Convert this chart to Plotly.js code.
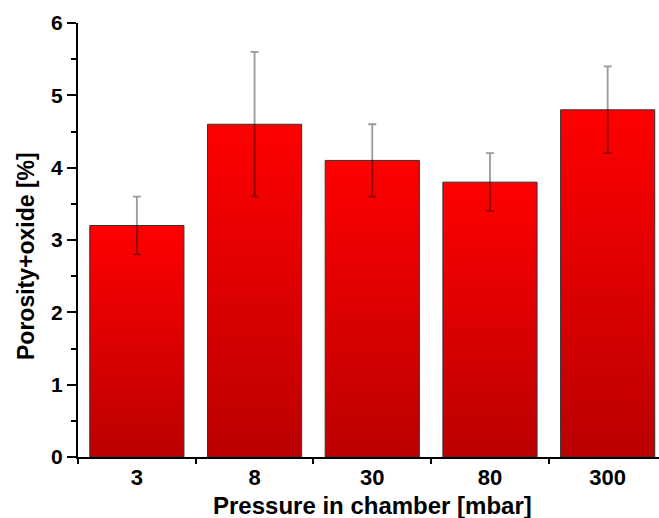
<!DOCTYPE html>
<html>
<head>
<meta charset="utf-8">
<script src="https://cdn.plot.ly/plotly-3.0.1.min.js"></script>
<style>html,body{margin:0;padding:0;background:#fff;}#chart{width:659px;height:518px;}</style>
</head>
<body>
<div id="chart"></div>
<script>
const categories = ["3", "8", "30", "80", "300"];
const porosity = [3.2, 4.6, 4.1, 3.8, 4.8];
const errors = [0.4, 1.0, 0.5, 0.4, 0.6];
const yTickVals = [0, 1, 2, 3, 4, 5, 6];
const xTitle = "Pressure in chamber [mbar]";
const yTitle = "Porosity+oxide [%]";

const FONT = "Liberation Sans, Arial, Helvetica, sans-serif";

const trace = {
  type: "bar",
  x: categories,
  y: porosity,
  width: 0.8,
  marker: { color: "#e00000", line: { color: "#333333", width: 1 } },
  error_y: { type: "data", array: errors, visible: true, color: "rgba(0,0,0,0.4)", thickness: 1.8, width: 4 },
  hoverinfo: "none"
};

const layout = {
  width: 659, height: 518,
  margin: { l: 78, r: 0, t: 23, b: 61, pad: 0 },
  paper_bgcolor: "#fff", plot_bgcolor: "#fff",
  showlegend: false,
  bargap: 0.2,
  xaxis: {
    type: "category",
    range: [-0.5, 4.436],
    showline: true, linecolor: "#000", linewidth: 2,
    ticks: "outside", tickson: "boundaries", ticklen: 5, tickwidth: 2, tickcolor: "#000",
    showgrid: false, zeroline: false,
    tickfont: { family: FONT, size: 22, weight: "bold", color: "#000" }
  },
  yaxis: {
    range: [0, 6],
    tickvals: yTickVals,
    ticktext: yTickVals.map(String),
    showline: true, linecolor: "#000", linewidth: 2,
    ticks: "outside", ticklen: 9, tickwidth: 2, tickcolor: "#000",
    minor: { dtick: 0.5, ticks: "outside", ticklen: 5, tickwidth: 2, tickcolor: "#000", showgrid: false },
    showgrid: false, zeroline: false,
    tickfont: { family: FONT, size: 21, weight: "bold", color: "#000" }
  },
  annotations: [
    { text: xTitle, xref: "paper", yref: "paper", x: (372 - 78) / 581, y: -(506 - 457) / 434,
      xanchor: "center", yanchor: "middle", showarrow: false,
      font: { family: FONT, size: 24, weight: "bold", color: "#000" } },
    { text: yTitle, xref: "paper", yref: "paper", x: -(78 - 26) / 581, y: (457 - 256) / 434,
      xanchor: "center", yanchor: "middle", textangle: -90, showarrow: false,
      font: { family: FONT, size: 23, weight: "bold", color: "#000" } }
  ]
};

Plotly.newPlot("chart", [trace], layout, { staticPlot: true, displayModeBar: false }).then(function (gd) {
  const svg = gd.querySelector("svg.main-svg");
  const ns = "http://www.w3.org/2000/svg";
  let defs = svg.querySelector("defs");
  if (!defs) { defs = document.createElementNS(ns, "defs"); svg.insertBefore(defs, svg.firstChild); }
  const grad = document.createElementNS(ns, "linearGradient");
  grad.setAttribute("id", "barGrad");
  grad.setAttribute("x1", "0"); grad.setAttribute("y1", "0");
  grad.setAttribute("x2", "0"); grad.setAttribute("y2", "1");
  [["0", "#ff0000"], ["1", "#bb0000"]].forEach(function (s) {
    const stop = document.createElementNS(ns, "stop");
    stop.setAttribute("offset", s[0]);
    stop.setAttribute("stop-color", s[1]);
    grad.appendChild(stop);
  });
  defs.appendChild(grad);
  gd.querySelectorAll(".bars .point path").forEach(function (p) {
    p.style.fill = "url(#barGrad)";
  });
});
</script>
</body>
</html>
